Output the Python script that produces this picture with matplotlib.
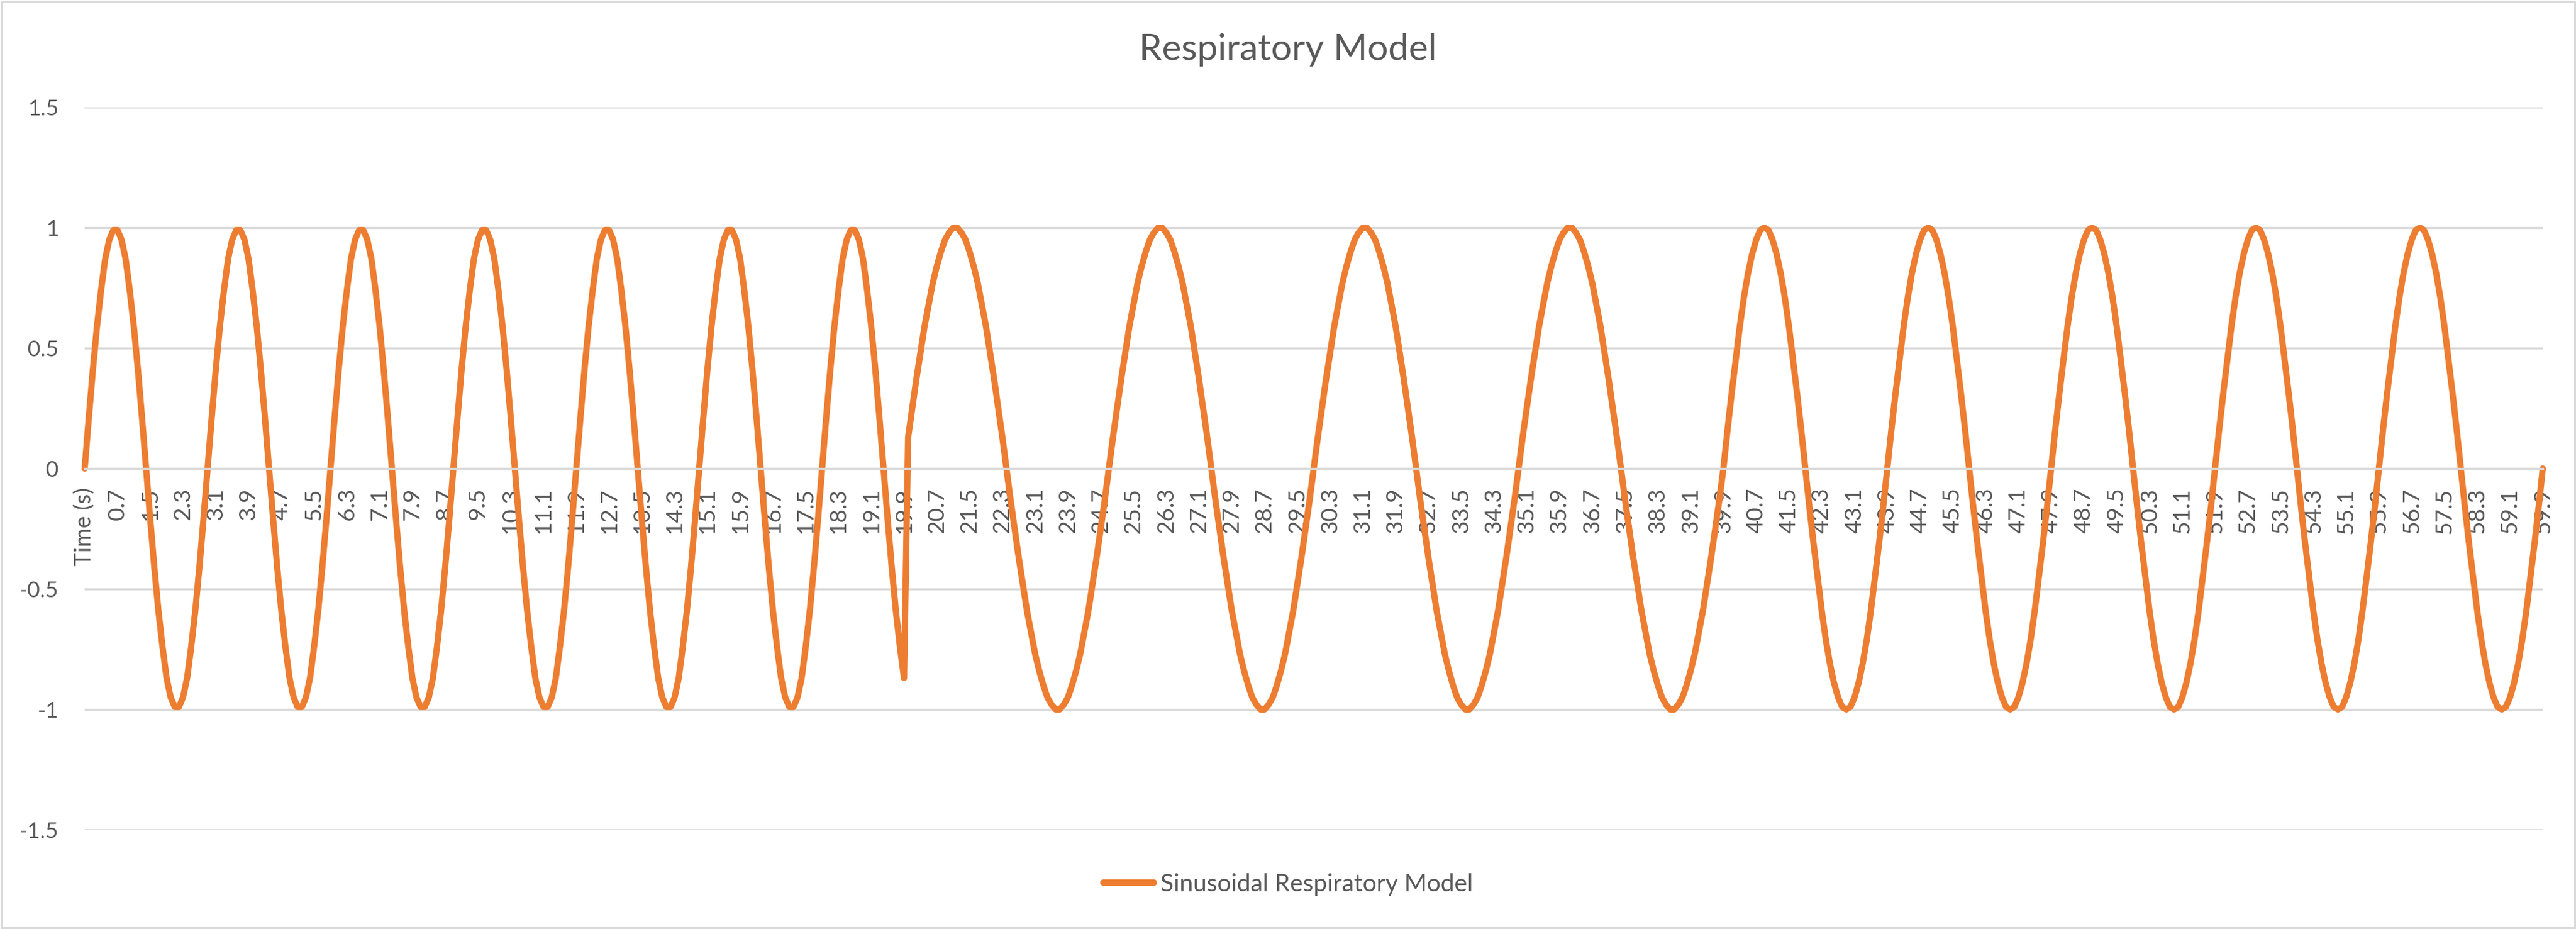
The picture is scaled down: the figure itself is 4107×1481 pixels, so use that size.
import numpy as np
import matplotlib.pyplot as plt
from matplotlib.patches import Rectangle

plt.rcParams['font.family'] = ['Lato', 'DejaVu Sans']

# Signal values, one per 0.1 s category (category 0 is the "Time (s)" header cell)
# 0 - 20 s : period 3 s
resp_0_20 = [
    0, 0.21, 0.41, 0.59, 0.74, 0.87, 0.95, 0.99, 0.99, 0.95, 0.87, 0.74, 0.59, 0.41, 0.21, 0, -0.21, -0.41, -0.59, -0.74, -0.87, -0.95, -0.99, -0.99, -0.95, -0.87, -0.74, -0.59, -0.41, -0.21,
    0, 0.21, 0.41, 0.59, 0.74, 0.87, 0.95, 0.99, 0.99, 0.95, 0.87, 0.74, 0.59, 0.41, 0.21, 0, -0.21, -0.41, -0.59, -0.74, -0.87, -0.95, -0.99, -0.99, -0.95, -0.87, -0.74, -0.59, -0.41, -0.21,
    0, 0.21, 0.41, 0.59, 0.74, 0.87, 0.95, 0.99, 0.99, 0.95, 0.87, 0.74, 0.59, 0.41, 0.21, 0, -0.21, -0.41, -0.59, -0.74, -0.87, -0.95, -0.99, -0.99, -0.95, -0.87, -0.74, -0.59, -0.41, -0.21,
    0, 0.21, 0.41, 0.59, 0.74, 0.87, 0.95, 0.99, 0.99, 0.95, 0.87, 0.74, 0.59, 0.41, 0.21, 0, -0.21, -0.41, -0.59, -0.74, -0.87, -0.95, -0.99, -0.99, -0.95, -0.87, -0.74, -0.59, -0.41, -0.21,
    0, 0.21, 0.41, 0.59, 0.74, 0.87, 0.95, 0.99, 0.99, 0.95, 0.87, 0.74, 0.59, 0.41, 0.21, 0, -0.21, -0.41, -0.59, -0.74, -0.87, -0.95, -0.99, -0.99, -0.95, -0.87, -0.74, -0.59, -0.41, -0.21,
    0, 0.21, 0.41, 0.59, 0.74, 0.87, 0.95, 0.99, 0.99, 0.95, 0.87, 0.74, 0.59, 0.41, 0.21, 0, -0.21, -0.41, -0.59, -0.74, -0.87, -0.95, -0.99, -0.99, -0.95, -0.87, -0.74, -0.59, -0.41, -0.21,
    0, 0.21, 0.41, 0.59, 0.74, 0.87, 0.95, 0.99, 0.99, 0.95, 0.87, 0.74, 0.59, 0.41, 0.21, 0, -0.21, -0.41, -0.59, -0.74, -0.87,
]

# 20 - 40 s : period 5 s
resp_20_40 = [
    0.13, 0.25, 0.37, 0.48, 0.59, 0.68, 0.77, 0.84, 0.90, 0.95, 0.98, 1.00, 1.00, 0.98, 0.95, 0.90, 0.84, 0.77, 0.68, 0.59, 0.48, 0.37, 0.25, 0.13, 0,
    -0.13, -0.25, -0.37, -0.48, -0.59, -0.68, -0.77, -0.84, -0.90, -0.95, -0.98, -1.00, -1.00, -0.98, -0.95, -0.90, -0.84, -0.77, -0.68, -0.59, -0.48, -0.37, -0.25, -0.13, 0,
    0.13, 0.25, 0.37, 0.48, 0.59, 0.68, 0.77, 0.84, 0.90, 0.95, 0.98, 1.00, 1.00, 0.98, 0.95, 0.90, 0.84, 0.77, 0.68, 0.59, 0.48, 0.37, 0.25, 0.13, 0,
    -0.13, -0.25, -0.37, -0.48, -0.59, -0.68, -0.77, -0.84, -0.90, -0.95, -0.98, -1.00, -1.00, -0.98, -0.95, -0.90, -0.84, -0.77, -0.68, -0.59, -0.48, -0.37, -0.25, -0.13, 0,
    0.13, 0.25, 0.37, 0.48, 0.59, 0.68, 0.77, 0.84, 0.90, 0.95, 0.98, 1.00, 1.00, 0.98, 0.95, 0.90, 0.84, 0.77, 0.68, 0.59, 0.48, 0.37, 0.25, 0.13, 0,
    -0.13, -0.25, -0.37, -0.48, -0.59, -0.68, -0.77, -0.84, -0.90, -0.95, -0.98, -1.00, -1.00, -0.98, -0.95, -0.90, -0.84, -0.77, -0.68, -0.59, -0.48, -0.37, -0.25, -0.13, 0,
    0.13, 0.25, 0.37, 0.48, 0.59, 0.68, 0.77, 0.84, 0.90, 0.95, 0.98, 1.00, 1.00, 0.98, 0.95, 0.90, 0.84, 0.77, 0.68, 0.59, 0.48, 0.37, 0.25, 0.13, 0,
    -0.13, -0.25, -0.37, -0.48, -0.59, -0.68, -0.77, -0.84, -0.90, -0.95, -0.98, -1.00, -1.00, -0.98, -0.95, -0.90, -0.84, -0.77, -0.68, -0.59, -0.48, -0.37, -0.25, -0.13, 0,
]

# 40 - 60 s : period 4 s
resp_40_60 = [
    0.16, 0.31, 0.45, 0.59, 0.71, 0.81, 0.89, 0.95, 0.99, 1.00, 0.99, 0.95, 0.89, 0.81, 0.71, 0.59, 0.45, 0.31, 0.16, 0,
    -0.16, -0.31, -0.45, -0.59, -0.71, -0.81, -0.89, -0.95, -0.99, -1.00, -0.99, -0.95, -0.89, -0.81, -0.71, -0.59, -0.45, -0.31, -0.16, 0,
    0.16, 0.31, 0.45, 0.59, 0.71, 0.81, 0.89, 0.95, 0.99, 1.00, 0.99, 0.95, 0.89, 0.81, 0.71, 0.59, 0.45, 0.31, 0.16, 0,
    -0.16, -0.31, -0.45, -0.59, -0.71, -0.81, -0.89, -0.95, -0.99, -1.00, -0.99, -0.95, -0.89, -0.81, -0.71, -0.59, -0.45, -0.31, -0.16, 0,
    0.16, 0.31, 0.45, 0.59, 0.71, 0.81, 0.89, 0.95, 0.99, 1.00, 0.99, 0.95, 0.89, 0.81, 0.71, 0.59, 0.45, 0.31, 0.16, 0,
    -0.16, -0.31, -0.45, -0.59, -0.71, -0.81, -0.89, -0.95, -0.99, -1.00, -0.99, -0.95, -0.89, -0.81, -0.71, -0.59, -0.45, -0.31, -0.16, 0,
    0.16, 0.31, 0.45, 0.59, 0.71, 0.81, 0.89, 0.95, 0.99, 1.00, 0.99, 0.95, 0.89, 0.81, 0.71, 0.59, 0.45, 0.31, 0.16, 0,
    -0.16, -0.31, -0.45, -0.59, -0.71, -0.81, -0.89, -0.95, -0.99, -1.00, -0.99, -0.95, -0.89, -0.81, -0.71, -0.59, -0.45, -0.31, -0.16, 0,
    0.16, 0.31, 0.45, 0.59, 0.71, 0.81, 0.89, 0.95, 0.99, 1.00, 0.99, 0.95, 0.89, 0.81, 0.71, 0.59, 0.45, 0.31, 0.16, 0,
    -0.16, -0.31, -0.45, -0.59, -0.71, -0.81, -0.89, -0.95, -0.99, -1.00, -0.99, -0.95, -0.89, -0.81, -0.71, -0.59, -0.45, -0.31, -0.16, 0,
]

# Category labels shown on the axis (every 8th category)
time_labels = [
    "Time (s)", "0.7", "1.5", "2.3", "3.1", "3.9", "4.7", "5.5", "6.3", "7.1", "7.9",
    "8.7", "9.5", "10.3", "11.1", "11.9", "12.7", "13.5", "14.3", "15.1", "15.9",
    "16.7", "17.5", "18.3", "19.1", "19.9", "20.7", "21.5", "22.3", "23.1", "23.9",
    "24.7", "25.5", "26.3", "27.1", "27.9", "28.7", "29.5", "30.3", "31.1", "31.9",
    "32.7", "33.5", "34.3", "35.1", "35.9", "36.7", "37.5", "38.3", "39.1", "39.9",
    "40.7", "41.5", "42.3", "43.1", "43.9", "44.7", "45.5", "46.3", "47.1", "47.9",
    "48.7", "49.5", "50.3", "51.1", "51.9", "52.7", "53.5", "54.3", "55.1", "55.9",
    "56.7", "57.5", "58.3", "59.1", "59.9",
]
label_step = 8

y_ticks = [-1.5, -1, -0.5, 0, 0.5, 1, 1.5]
y_labels = ["-1.5", "-1", "-0.5", "0", "0.5", "1", "1.5"]

values = resp_0_20 + resp_20_40 + resp_40_60
x = np.arange(len(values))

text_col = "#595959"
grid_col = "#D9D9D9"
W, H = 4107, 1481

fig = plt.figure(figsize=(W / 100, H / 100), dpi=100)
ax = fig.add_axes([135 / W, 1 - 1323 / H, (4054 - 135) / W, (1323 - 171) / H])

ax.plot(x, values, color="#ED7D31", lw=7.2, solid_capstyle="round",
        solid_joinstyle="round", label="Sinusoidal Respiratory Model", clip_on=False)

ax.set_xlim(0, len(values) - 1)
ax.set_ylim(-1.5, 1.5)
ax.set_axisbelow(True)

ax.set_xticks(x[::label_step])
ax.set_xticklabels(time_labels)
ax.set_yticks(y_ticks)
ax.set_yticklabels(y_labels)

ax.tick_params(axis="x", length=0, pad=22, labelrotation=90, labelsize=26.5, labelcolor=text_col)
ax.tick_params(axis="y", length=0, pad=30, labelsize=25.5, labelcolor=text_col)

ax.yaxis.grid(True, color=grid_col, lw=2.4)
for s in ["top", "right", "left"]:
    ax.spines[s].set_visible(False)
ax.spines["bottom"].set_position(("data", 0))
ax.spines["bottom"].set_color(grid_col)
ax.spines["bottom"].set_linewidth(2.4)

fig.text(0.5, 1 - 79 / H, "Respiratory Model", ha="center", va="center",
         fontsize=42, color=text_col)

fig.legend(loc="center", bbox_to_anchor=(0.5, 71 / H), frameon=False, fontsize=28,
           labelcolor=text_col, handlelength=2.1, handletextpad=0.25)

# chart border
fig.patches.append(Rectangle((2 / W, 2 / H), (W - 4) / W, (H - 4) / H, transform=fig.transFigure,
                             fill=False, edgecolor=grid_col, lw=2.2))

fig.savefig("out.png", dpi=100)
